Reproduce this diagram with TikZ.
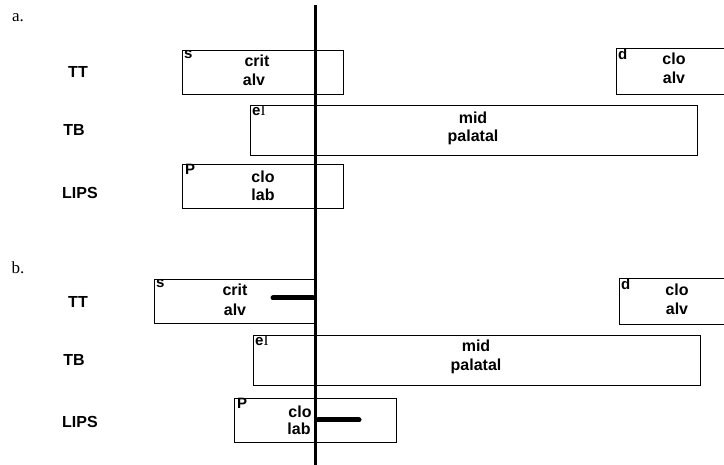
\documentclass[tikz,border=0pt]{standalone}
\usepackage{fontspec}
\setmainfont{Liberation Sans}
\newfontfamily\seriffont{Liberation Serif}
\begin{document}
\begin{tikzpicture}[x=1pt,y=-1pt,
  box/.style={draw, line width=1.2pt, inner sep=0pt, anchor=north west},
  txt/.style={font=\fontsize{16}{18}\selectfont\bfseries, inner sep=0pt},
  corner/.style={font=\fontsize{15}{17}\selectfont\bfseries, inner sep=0pt, anchor=north west},
  lbl/.style={font=\fontsize{17}{19}\selectfont\seriffont, inner sep=0pt},
  bar/.style={line width=5pt, line cap=round},
  axis/.style={line width=3pt}]
\useasboundingbox (0,0) rectangle (724,465);
\clip (0,0) rectangle (724,465);
% labels
\node[lbl] (la) at (18,18) {a.};
\node[lbl] (lb) at (18,268) {b.};
\node[txt] (tta) at (78,72) {TT};
\node[txt] (tba) at (74,130) {TB};
\node[txt] (lipsa) at (80,193) {LIPS};
\node[txt] (ttb) at (78,302) {TT};
\node[txt] (tbb) at (74,360) {TB};
\node[txt] (lipsb) at (80,422) {LIPS};
% part a boxes
\node[box, minimum width=161pt, minimum height=44pt] (sa) at (182,50) {};
\node[corner] at ([shift={(2,0)}]sa.north west) {s};
\node[txt] (crita) at (257,61) {crit};
\node[txt] (alva) at (254,80) {alv};
\node[box, minimum width=447pt, minimum height=50pt] (eia) at (250,105) {};
\node[corner] at ([shift={(2,0)}]eia.north west) {e{\seriffont\mdseries I}};
\node[txt] (mida) at (473,118) {mid};
\node[txt] (pala) at (473,137) {palatal};
\node[box, minimum width=161pt, minimum height=44pt] (pa) at (182,164) {};
\node[corner] at ([shift={(3,0)}]pa.north west) {P};
\node[txt] (cloa) at (263,177) {clo};
\node[txt] (laba) at (263,195) {lab};
\node[box, minimum width=140pt, minimum height=46pt] (da) at (616,48) {};
\node[corner] at ([shift={(2,0)}]da.north west) {d};
\node[txt] (cloda) at (674,59) {clo};
\node[txt] (alvda) at (674,78) {alv};
% part b boxes
\node[box, minimum width=160pt, minimum height=44pt] (sb) at (154,279) {};
\node[corner] at ([shift={(2,0)}]sb.north west) {s};
\node[txt] (critb) at (235,290) {crit};
\node[txt] (alvb) at (235,310) {alv};
\node[box, minimum width=447pt, minimum height=50pt] (eib) at (253,335) {};
\node[corner] at ([shift={(2,0)}]eib.north west) {e{\seriffont\mdseries I}};
\node[txt] (midb) at (476,346) {mid};
\node[txt] (palb) at (476,366) {palatal};
\node[box, minimum width=162pt, minimum height=44pt] (pb) at (234,398) {};
\node[corner] at ([shift={(3,0)}]pb.north west) {P};
\node[txt] (clob) at (300,412) {clo};
\node[txt] (labb) at (299,429) {lab};
\node[box, minimum width=140pt, minimum height=46pt] (db) at (619,278) {};
\node[corner] at ([shift={(2,0)}]db.north west) {d};
\node[txt] (clodb) at (677,290) {clo};
\node[txt] (alvdb) at (677,309) {alv};
% vertical line
\coordinate (vt) at (315,5);
\coordinate (vb) at (315,465);
\draw[axis] (vt) -- (vb);
% bars
\coordinate (b1s) at (273,298);
\coordinate (b1e) at (313,298);
\draw[bar] (b1s) -- (b1e);
\coordinate (b2s) at (318,420);
\coordinate (b2e) at (359,420);
\draw[bar] (b2s) -- (b2e);
\end{tikzpicture}
\end{document}
